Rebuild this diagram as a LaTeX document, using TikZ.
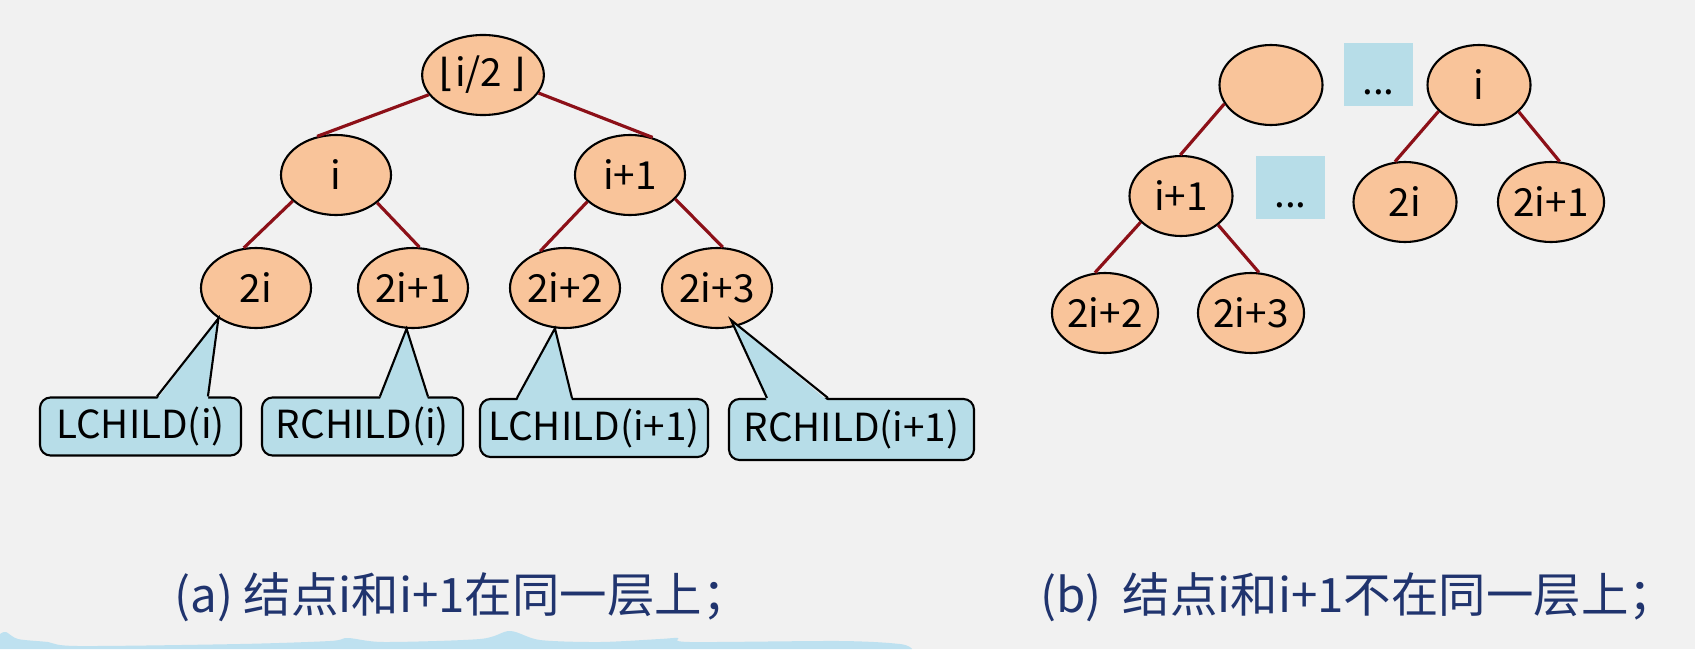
\documentclass[tikz,border=0pt]{standalone}
\usepackage{fontspec}
\setmainfont{Noto Sans CJK SC}
\newfontfamily\bracketfont{DejaVu Sans}
\usetikzlibrary{shapes.geometric, calc}
\definecolor{slidebg}{RGB}{241,241,241}
\definecolor{peach}{RGB}{249,196,154}
\definecolor{boxblue}{RGB}{183,221,232}
\definecolor{linkred}{RGB}{140,16,24}
\definecolor{navy}{RGB}{32,52,110}
\definecolor{wave}{RGB}{190,225,240}
\tikzset{
  vertex/.style={
    ellipse,
    draw=black,
    line width=0.6pt,
    fill=peach,
    inner sep=0pt,
    minimum width=1.1cm,
    minimum height=0.8cm,
    font=\fontsize{11}{13}\selectfont
  },
  callbox/.style={
    rectangle,
    rounded corners=3pt,
    draw=black,
    line width=0.6pt,
    fill=boxblue,
    inner sep=0pt,
    minimum height=0.58cm,
    font=\fontsize{11}{13}\selectfont
  },
  dotsbox/.style={
    rectangle,
    fill=boxblue,
    inner sep=0pt,
    minimum width=0.69cm,
    minimum height=0.63cm,
    text height=0.4cm,
    text depth=0pt,
    font=\fontsize{11}{13}\selectfont
  }
}
\tikzstyle{link} = [draw=linkred, line width=0.9pt]
\tikzstyle{tail} = [draw=black, line width=0.6pt, line join=miter]
\def\figtext#1{\fontsize{13.5}{15}\selectfont\color{navy}#1}

\begin{document}
\begin{tikzpicture}
    \useasboundingbox (0, 0) rectangle (16.95, 6.49);
    \fill[slidebg] (0, 0) rectangle (16.95, 6.49);
    \fill[wave] plot[smooth] coordinates {(0, 0.15) (0.06, 0.17) (0.18, 0.10) (0.48, 0.07) (0.78, 0.03) (2.4, 0.05) (3.3, 0.08) (3.48, 0.11) (3.84, 0.07) (4.8, 0.10) (5.1, 0.18) (5.4, 0.09) (6.0, 0.07) (6.6, 0.10) (6.78, 0.11) (6.9, 0.07) (8.4, 0.08) (9.0, 0.05) (9.12, 0)} -- (0, 0) -- cycle;

    % (a)
    \node[vertex] (root) at (4.83, 5.74) {{\bracketfont ⌊}i/2 {\bracketfont ⌋}};
    \node[vertex] (ni) at (3.36, 4.74) {i};
    \node[vertex] (nip1) at (6.30, 4.74) {i+1};
    \node[vertex] (n2i) at (2.56, 3.61) {2i};
    \node[vertex] (n2ip1) at (4.13, 3.61) {2i+1};
    \node[vertex] (n2ip2) at (5.65, 3.61) {2i+2};
    \node[vertex] (n2ip3) at (7.17, 3.61) {2i+3};
    \draw[link] (root.200) -- (ni.116);
    \draw[link] (root.342) -- (nip1.59);
    \draw[link] (ni.211) -- (n2i.107);
    \draw[link] (ni.326) -- (n2ip1.81);
    \draw[link] (nip1.212) -- (n2ip2.124);
    \draw[link] (nip1.332) -- (n2ip3.82);

    \node[callbox, minimum width=2.01cm] (lc1) at (1.405, 2.225) {LCHILD(i)};
    \node[callbox, minimum width=2.01cm] (rc1) at (3.625, 2.225) {RCHILD(i)};
    \node[callbox, minimum width=2.28cm] (lc2) at (5.94, 2.21) {LCHILD(i+1)};
    \node[callbox, minimum width=2.45cm, minimum height=0.61cm] (rc2) at (8.515, 2.195) {RCHILD(i+1)};
    \coordinate (tip4) at ($(n2ip3)+(0.14, -0.32)$);
    \fill[boxblue] ($(lc1.north west)+(1.18, -0.03)$) -- (n2i.219) -- ($(lc1.north west)+(1.69, -0.03)$) -- cycle;
    \draw[tail] ($(lc1.north west)+(1.18, 0)$) -- (n2i.219) -- ($(lc1.north west)+(1.69, 0)$);
    \fill[boxblue] ($(rc1.north west)+(1.19, -0.03)$) -- (n2ip1.261) -- ($(rc1.north west)+(1.67, -0.03)$) -- cycle;
    \draw[tail] ($(rc1.north west)+(1.19, 0)$) -- (n2ip1.261) -- ($(rc1.north west)+(1.67, 0)$);
    \fill[boxblue] ($(lc2.north west)+(0.38, -0.03)$) -- (n2ip2.256) -- ($(lc2.north west)+(0.93, -0.03)$) -- cycle;
    \draw[tail] ($(lc2.north west)+(0.38, 0)$) -- (n2ip2.256) -- ($(lc2.north west)+(0.93, 0)$);
    \fill[boxblue] ($(rc2.north west)+(0.39, -0.03)$) -- (tip4) -- ($(rc2.north west)+(1.00, -0.03)$) -- cycle;
    \draw[tail] ($(rc2.north west)+(0.39, 0)$) -- (tip4) -- ($(rc2.north west)+(1.00, 0)$);

    \node (capa) at (4.62, 0.52) {\figtext{(a) 结点i和i+1在同一层上；}};

    % (b)
    \begin{scope}[vertex/.append style={minimum width=1.03cm}]
    \node[vertex] (bup) at (12.71, 5.64) {};
    \node[dotsbox] (dots1) at (13.785, 5.745) {...};
    \node[vertex] (bi) at (14.79, 5.64) {i};
    \node[vertex] (bip1) at (11.81, 4.53) {i+1};
    \node[dotsbox, minimum height=0.62cm] (dots2) at (12.905, 4.615) {...};
    \node[vertex] (b2i) at (14.05, 4.47) {2i};
    \node[vertex] (b2ip1) at (15.51, 4.47) {2i+1};
    \node[vertex] (b2ip2) at (11.05, 3.36) {2i+2};
    \node[vertex] (b2ip3) at (12.51, 3.36) {2i+3};
    \end{scope}
    \draw[link] (bup.202) -- (bip1.91);
    \draw[link] (bi.213) -- (b2i.104);
    \draw[link] (bi.326) -- (b2ip1.78);
    \draw[link] (bip1.213) -- (b2ip2.104);
    \draw[link] (bip1.322) -- (b2ip3.79);

    \node (capb) at (13.58, 0.52) {\figtext{(b)\ \ 结点i和i+1不在同一层上；}};
\end{tikzpicture}
\end{document}
